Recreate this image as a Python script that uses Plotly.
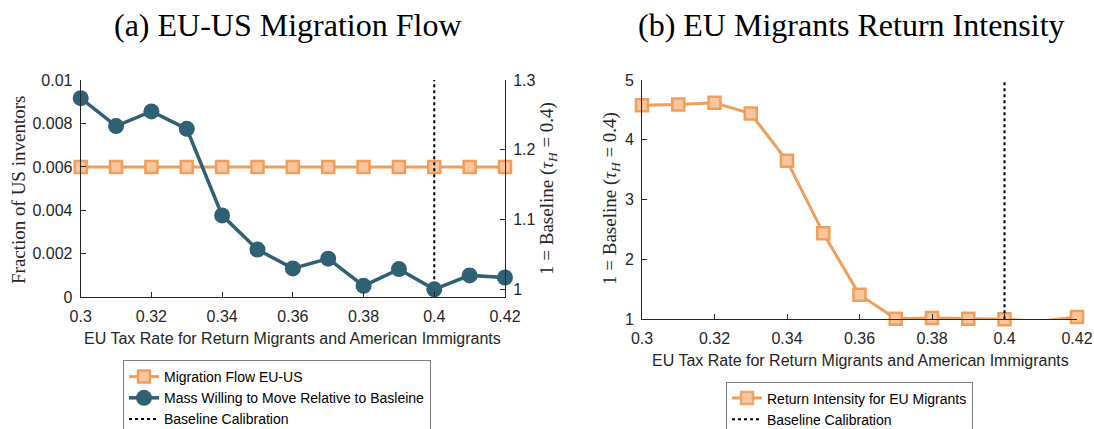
import plotly.graph_objects as go

# ---------------- data ----------------
tax_rates = [0.30, 0.31, 0.32, 0.33, 0.34, 0.35, 0.36, 0.37, 0.38, 0.39, 0.40, 0.41, 0.42]
migration_flow = [0.006, 0.006, 0.006, 0.006, 0.006, 0.006, 0.006, 0.006, 0.006, 0.006, 0.006, 0.006, 0.006]
mass_willing = [1.274, 1.234, 1.255, 1.230, 1.106, 1.057, 1.030, 1.044, 1.005, 1.029, 1.000, 1.020, 1.017]
return_intensity = [4.58, 4.59, 4.62, 4.44, 3.65, 2.44, 1.41, 1.01, 1.02, 1.01, 1.00, 0.967, 1.04]
baseline_tax = 0.40

x_ticks = [0.30, 0.32, 0.34, 0.36, 0.38, 0.40, 0.42]
x_tick_labels = ["0.3", "0.32", "0.34", "0.36", "0.38", "0.4", "0.42"]
flow_ticks = [0, 0.002, 0.004, 0.006, 0.008, 0.01]
flow_tick_labels = ["0", "0.002", "0.004", "0.006", "0.008", "0.01"]
mass_ticks = [1.0, 1.1, 1.2, 1.3]
mass_tick_labels = ["1", "1.1", "1.2", "1.3"]
ret_ticks = [1, 2, 3, 4, 5]
ret_tick_labels = ["1", "2", "3", "4", "5"]

# ---------------- styles ----------------
ORANGE = "#F29E58"
ORANGE_FILL = "#F7C59E"
BLUE = "#2F6074"
AX = "#262626"
SANS = "Liberation Sans"
SERIF = "Liberation Serif"

x_range = [0.30, 0.42]
flow_range = [0, 0.01]
mass_range = [0.9886, 1.3]
ret_range = [1, 5]

ret_opacity = [1 if v >= ret_range[0] else 0 for v in return_intensity]

fig = go.Figure()

# Panel (a)
fig.add_trace(go.Scatter(
    x=tax_rates, y=migration_flow, mode="lines+markers", name="Migration Flow EU-US",
    line=dict(color=ORANGE, width=3),
    marker=dict(symbol="square", size=12, color=ORANGE_FILL, line=dict(color=ORANGE, width=2.5)),
    xaxis="x", yaxis="y", cliponaxis=False, legend="legend"))
fig.add_trace(go.Scatter(
    x=tax_rates, y=mass_willing, mode="lines+markers", name="Mass Willing to Move Relative to Basleine",
    line=dict(color=BLUE, width=3.5),
    marker=dict(symbol="circle", size=16, color=BLUE),
    xaxis="x", yaxis="y2", cliponaxis=False, legend="legend"))
fig.add_trace(go.Scatter(
    x=[baseline_tax, baseline_tax], y=flow_range, mode="lines", name="Baseline Calibration",
    line=dict(color="black", width=2, dash="dot"),
    xaxis="x", yaxis="y", legend="legend"))

# Panel (b)
fig.add_trace(go.Scatter(
    x=tax_rates, y=return_intensity, mode="lines+markers", name="Return Intensity for EU Migrants",
    line=dict(color=ORANGE, width=3),
    marker=dict(symbol="square", size=12, color=ORANGE_FILL, opacity=ret_opacity,
                line=dict(color=ORANGE, width=2.5)),
    xaxis="x2", yaxis="y3", cliponaxis=False, legend="legend2"))
fig.add_trace(go.Scatter(
    x=[baseline_tax, baseline_tax], y=ret_range, mode="lines", name="Baseline Calibration",
    line=dict(color="black", width=2, dash="dot"),
    xaxis="x2", yaxis="y3", legend="legend2"))

tickfont = dict(family=SANS, size=16, color=AX)
common_axis = dict(showline=True, linecolor=AX, linewidth=1, ticks="inside", ticklen=5,
                   tickcolor=AX, tickfont=tickfont, showgrid=False, zeroline=False,
                   ticklabelstandoff=4, automargin=False)

xdom_a = [80.7 / 1094, 505 / 1094]
xdom_b = [642 / 1094, 1077 / 1094]
ydom_a = [1 - 297.3 / 429, 1 - 80 / 429]
ydom_b = [1 - 319.3 / 429, 1 - 80 / 429]

legend_font = dict(family=SANS, size=14, color="black")

fig.update_layout(
    width=1094, height=429,
    margin=dict(l=0, r=0, t=0, b=0, autoexpand=False),
    paper_bgcolor="white", plot_bgcolor="white",
    xaxis=dict(domain=xdom_a, range=x_range, tickvals=x_ticks, ticktext=x_tick_labels,
               anchor="y", **common_axis),
    yaxis=dict(domain=ydom_a, range=flow_range, tickvals=flow_ticks, ticktext=flow_tick_labels,
               anchor="x", **common_axis),
    yaxis2=dict(domain=ydom_a, range=mass_range, tickvals=mass_ticks, ticktext=mass_tick_labels,
                overlaying="y", side="right", anchor="x", **common_axis),
    xaxis2=dict(domain=xdom_b, range=x_range, tickvals=x_ticks, ticktext=x_tick_labels,
                anchor="y3", **common_axis),
    yaxis3=dict(domain=ydom_b, range=ret_range, tickvals=ret_ticks, ticktext=ret_tick_labels,
                anchor="x2", **common_axis),
    legend=dict(x=123 / 1094, y=1 - 360 / 429, xanchor="left", yanchor="top",
                bgcolor="white", bordercolor="#7f7f7f", borderwidth=1,
                font=legend_font, tracegroupgap=0, entrywidth=301, entrywidthmode="pixels"),
    legend2=dict(x=726 / 1094, y=1 - 381.5 / 429, xanchor="left", yanchor="top",
                 bgcolor="white", bordercolor="#7f7f7f", borderwidth=1,
                 font=legend_font, tracegroupgap=0, entrywidth=243, entrywidthmode="pixels"),
    showlegend=True,
)

annos = [
    dict(text="(a) EU-US Migration Flow", x=288 / 1094, y=1 - 25 / 429,
         font=dict(family=SERIF, size=32, color="black")),
    dict(text="(b) EU Migrants Return Intensity", x=851 / 1094, y=1 - 25 / 429,
         font=dict(family=SERIF, size=32, color="black")),
    dict(text="EU Tax Rate for Return Migrants and American Immigrants", x=292 / 1094, y=1 - 338 / 429,
         font=dict(family=SANS, size=16, color=AX)),
    dict(text="EU Tax Rate for Return Migrants and American Immigrants", x=860 / 1094, y=1 - 360 / 429,
         font=dict(family=SANS, size=16, color=AX)),
    dict(text="Fraction of US inventors", x=18 / 1094, y=1 - 190 / 429, textangle=-90,
         font=dict(family=SERIF, size=19, color=AX)),
    dict(text="1 = Baseline (<i>τ<sub>H</sub></i> = 0.4)", x=548 / 1094, y=1 - 189 / 429, textangle=-90,
         font=dict(family=SERIF, size=19, color=AX)),
    dict(text="1 = Baseline (<i>τ<sub>H</sub></i> = 0.4)", x=611 / 1094, y=1 - 199 / 429, textangle=-90,
         font=dict(family=SERIF, size=19, color=AX)),
]
for a in annos:
    fig.add_annotation(xref="paper", yref="paper", xanchor="center", yanchor="middle",
                       showarrow=False, **a)

fig.write_html(
    "out.html",
    config={"displayModeBar": False},
    post_script="document.body.style.margin='0';document.body.style.overflow='hidden';",
)
